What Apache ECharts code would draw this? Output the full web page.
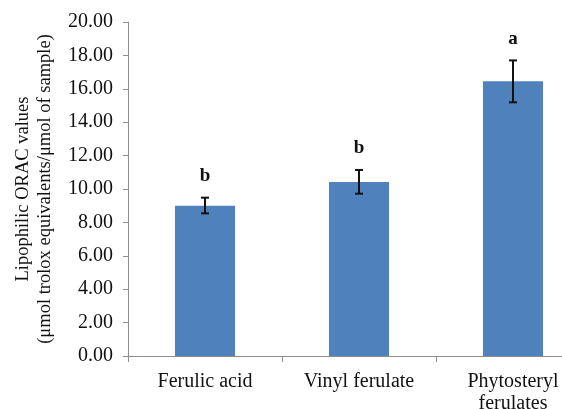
<!DOCTYPE html>
<html>
<head>
<meta charset="utf-8">
<script src="https://cdn.jsdelivr.net/npm/echarts@6/dist/echarts.min.js"></script>
<style>
  html, body { margin: 0; padding: 0; background: #fff; }
  #chart { width: 562px; height: 409px; }
</style>
</head>
<body>
<div id="chart"></div>
<script>
// 数据
var categories = ['Ferulic acid', 'Vinyl ferulate', 'Phytosteryl\nferulates'];
var oracValues = [9.0, 10.42, 16.45];
var errLow = [8.54, 9.72, 15.19];
var errHigh = [9.48, 11.14, 17.7];
var letters = ['b', 'b', 'a'];
var yTicks = [0, 2, 4, 6, 8, 10, 12, 14, 16, 18, 20];

var serif = '"Liberation Serif", "Times New Roman", serif';

var chart = echarts.init(document.getElementById('chart'));

var errData = categories.map(function (c, i) {
    return [i, errLow[i], errHigh[i], letters[i]];
});

chart.setOption({
    animation: false,
    // 第三个类目在右侧被裁掉，所以 right 为负
    grid: { left: 128, top: 22, bottom: 53, right: -28, outerBoundsMode: 'none' },
    xAxis: {
        type: 'category',
        data: categories,
        axisLine: { lineStyle: { color: '#948c8c' } },
        axisTick: { show: true, length: 6, lineStyle: { color: '#948c8c' } },
        axisLabel: { color: '#111', fontFamily: serif, fontSize: 20, margin: 15, lineHeight: 22 }
    },
    yAxis: {
        type: 'value',
        min: 0,
        max: 20,
        interval: 2,
        name: 'Lipophilic ORAC values\n(μmol trolox equivalents/μmol of sample)',
        nameLocation: 'middle',
        nameGap: 72,
        nameTextStyle: { color: '#111', fontFamily: serif, fontSize: 18.5, lineHeight: 22 },
        axisLine: { show: true, lineStyle: { color: '#948c8c' } },
        axisTick: { show: true, length: 5, lineStyle: { color: '#948c8c' } },
        splitLine: { show: false },
        axisLabel: {
            color: '#111', fontFamily: serif, fontSize: 20, margin: 15,
            formatter: function (v) {
                return yTicks.indexOf(v) >= 0 ? v.toFixed(2) : '';
            }
        }
    },
    series: [
        {
            type: 'bar',
            data: oracValues,
            barWidth: '39%',
            itemStyle: { color: '#4f81bd' }
        },
        {
            type: 'custom',
            data: errData,
            z: 10,
            renderItem: function (params, api) {
                var x = api.value(0);
                var lo = api.coord([x, api.value(1)]);
                var hi = api.coord([x, api.value(2)]);
                var cap = 4;
                var st = { stroke: '#111', lineWidth: 2 };
                return {
                    type: 'group',
                    children: [
                        { type: 'line', shape: { x1: hi[0], y1: hi[1], x2: lo[0], y2: lo[1] }, style: st },
                        { type: 'line', shape: { x1: hi[0] - cap, y1: hi[1], x2: hi[0] + cap, y2: hi[1] }, style: st },
                        { type: 'line', shape: { x1: lo[0] - cap, y1: lo[1], x2: lo[0] + cap, y2: lo[1] }, style: st },
                        {
                            type: 'text',
                            style: {
                                text: letters[params.dataIndex],
                                x: hi[0], y: hi[1] - 12,
                                textAlign: 'center', textVerticalAlign: 'bottom',
                                fill: '#111', font: 'bold 19px ' + serif
                            }
                        }
                    ]
                };
            }
        }
    ]
});
</script>
</body>
</html>
